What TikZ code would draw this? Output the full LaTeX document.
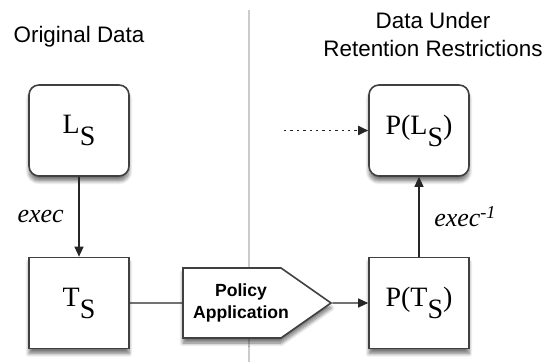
\documentclass[tikz,border=0pt]{standalone}
\usepackage{fontspec}
\setmainfont{Liberation Serif}
\setsansfont{Liberation Sans}
\usetikzlibrary{arrows.meta,shapes.symbols,shadows.blur}

\tikzset{
  databox/.style={draw=black!75, line width=0.8pt, fill=white, minimum width=50pt, minimum height=45.5pt,
    inner sep=0pt, font=\fontsize{14}{16}\selectfont,
    blur shadow={shadow xshift=0pt, shadow yshift=-2.5pt, shadow blur steps=8, shadow opacity=55}},
  roundbox/.style={databox, rounded corners=5pt},
  flow/.style={draw=black!85, line width=0.6pt, -{Triangle[length=5pt,width=4.5pt]}},
  heading/.style={font=\sffamily\fontsize{11.2}{14}\selectfont, align=center, inner sep=0pt}
}
\newcommand{\subS}{\raisebox{-6pt}{S}}
\newcommand{\nudged}[1]{\hspace*{4.5pt}#1\hspace*{-4.5pt}}

\begin{document}
\begin{tikzpicture}[x=0.5pt,y=0.5pt,yscale=-1,xscale=1]
    \useasboundingbox (0,0) rectangle (550,362);

    \draw [black!20, line width=1pt]   (249,10) -- (249,362) ;

    \node [heading] (orig) at (79,37) {Original Data};
    \node [heading] (restr) at (433,35) {Data Under\\Retention Restrictions};

    \node [roundbox] (ls) at (79,130.5) {L\subS};
    \node [databox] (ts) at (79,303) {T\subS};
    \node [roundbox] (pls) at (419,130.5) {P(L\subS)};
    \node [databox] (pts) at (419,303) {P(T\subS)};
    \node [signal, signal to=east, signal pointer angle=70, draw=black!75, line width=0.8pt, fill=white,
      minimum width=74pt, minimum height=35pt, inner sep=0pt, align=center,
      font=\sffamily\bfseries\fontsize{8.8}{10.8}\selectfont,
      blur shadow={shadow xshift=0pt, shadow yshift=-2.5pt, shadow blur steps=8, shadow opacity=55}]
      (policy) at (232,303) {\nudged{Policy}\\\nudged{Application}};

    \coordinate (from) at (284,130.5);

    \draw [flow] (ls) -- (ts) node [midway, left=4pt, font=\itshape\fontsize{13}{15}\selectfont] {exec};
    \draw [draw=black!85, line width=0.6pt] (ts) -- (policy);
    \draw [flow] (policy) -- (pts);
    \draw [flow] (pts) -- (pls) node [midway, right=4pt, font=\itshape\fontsize{13}{15}\selectfont] {exec\textsuperscript{-1}};
    \draw [flow, line width=0.9pt, dash pattern=on 1.2pt off 2pt] (from) -- (pls);

\end{tikzpicture}
\end{document}
